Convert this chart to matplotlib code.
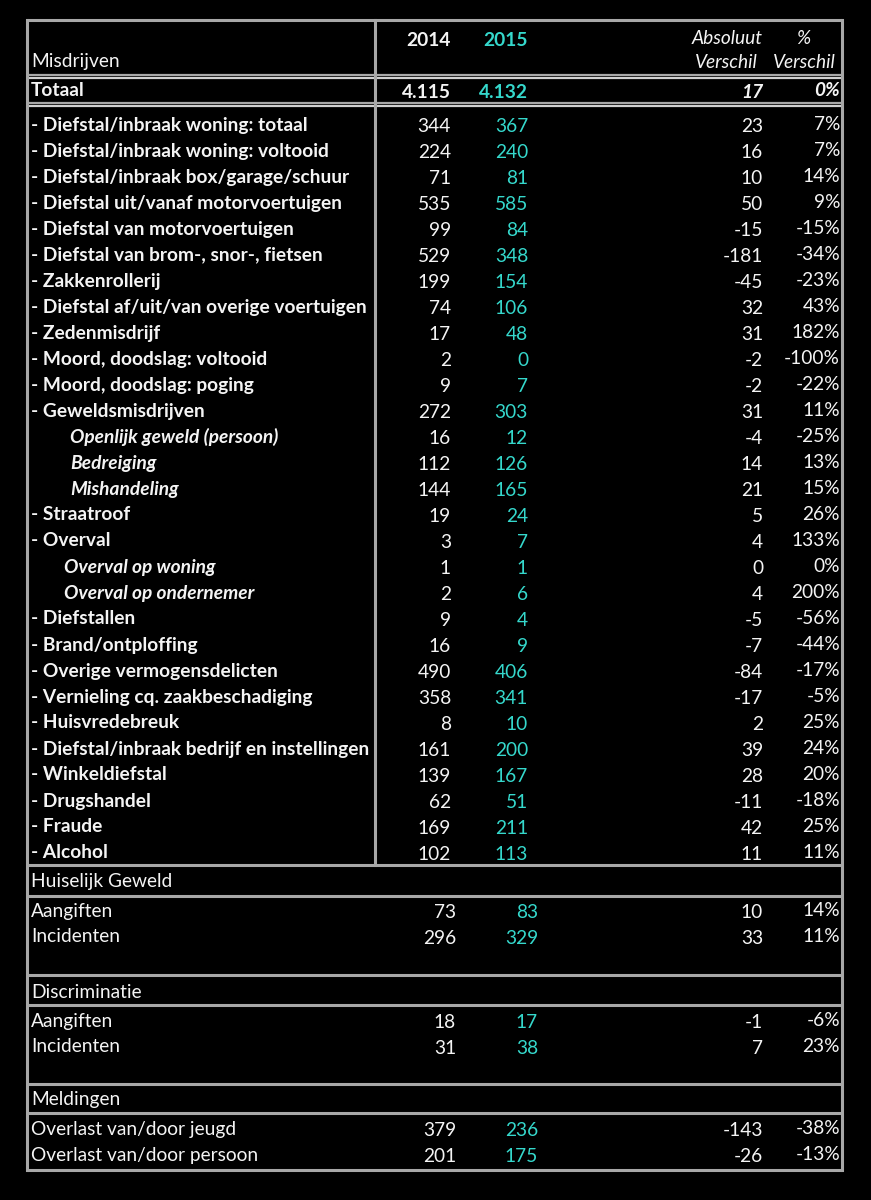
import matplotlib.pyplot as plt

# ---------------------------------------------------------------------------
# data read from the reference table
# ---------------------------------------------------------------------------
TOTAL = ("Totaal", "4.115", "4.132", "17", "0%")

labels = [
    "- Diefstal/inbraak woning: totaal",
    "- Diefstal/inbraak woning: voltooid",
    "- Diefstal/inbraak box/garage/schuur",
    "- Diefstal uit/vanaf motorvoertuigen",
    "- Diefstal van motorvoertuigen",
    "- Diefstal van brom-, snor-, fietsen",
    "- Zakkenrollerij",
    "- Diefstal af/uit/van overige voertuigen",
    "- Zedenmisdrijf",
    "- Moord, doodslag: voltooid",
    "- Moord, doodslag: poging",
    "- Geweldsmisdrijven",
    "Openlijk geweld (persoon)",
    "Bedreiging",
    "Mishandeling",
    "- Straatroof",
    "- Overval",
    "Overval op woning",
    "Overval op ondernemer",
    "- Diefstallen",
    "- Brand/ontploffing",
    "- Overige vermogensdelicten",
    "- Vernieling cq. zaakbeschadiging",
    "- Huisvredebreuk",
    "- Diefstal/inbraak bedrijf en instellingen",
    "- Winkeldiefstal",
    "- Drugshandel",
    "- Fraude",
    "- Alcohol",
]
v2014 = [344, 224, 71, 535, 99, 529, 199, 74, 17, 2, 9, 272, 16, 112, 144,
         19, 3, 1, 2, 9, 16, 490, 358, 8, 161, 139, 62, 169, 102]
v2015 = [367, 240, 81, 585, 84, 348, 154, 106, 48, 0, 7, 303, 12, 126, 165,
         24, 7, 1, 6, 4, 9, 406, 341, 10, 200, 167, 51, 211, 113]
abs_diff = [23, 16, 10, 50, -15, -181, -45, 32, 31, -2, -2, 31, -4, 14, 21,
            5, 4, 0, 4, -5, -7, -84, -17, 2, 39, 28, -11, 42, 11]
pct_diff = [7, 7, 14, 9, -15, -34, -23, 43, 182, -100, -22, 11, -25, 13, 15,
            26, 133, 0, 200, -56, -44, -17, -5, 25, 24, 20, -18, 25, 11]
# indent of the italic sub rows (0 = normal bold row)
indent = [0] * 12 + [39, 39, 39] + [0, 0] + [33, 33] + [0] * 10

section_titles = ["Huiselijk Geweld", "Discriminatie", "Meldingen"]
section_rows = [
    ["Aangiften", "Incidenten"],
    ["Aangiften", "Incidenten"],
    ["Overlast van/door jeugd", "Overlast van/door persoon"],
]
section_2014 = [[73, 296], [18, 31], [379, 201]]
section_2015 = [[83, 329], [17, 38], [236, 175]]
section_abs = [[10, 33], [-1, 7], [-143, -26]]
section_pct = [[14, 11], [-6, 23], [-38, -13]]

# ---------------------------------------------------------------------------
FONT = "Lato"
FS = 13.8
CYAN = "#35d8cc"
WHITE = "#f4f4f4"
GRID = "#a8a8a8"

X_LABEL = 31
X_2014 = 451
X_2015 = 528
X_ABS = 763
X_PCT = 840
L, R, TOP, BOT = 27, 842, 20, 1170

fig = plt.figure(figsize=(8.71, 12.0), dpi=100)
fig.patch.set_facecolor("black")
ax = fig.add_axes([0, 0, 1, 1])
ax.set_xlim(0, 871)
ax.set_ylim(1200, 0)
ax.axis("off")
ax.set_facecolor("black")


def txt(x, y, s, ha="left", color=WHITE, weight="normal", style="normal", size=FS):
    ax.text(x, y, s, ha=ha, va="center", color=color, fontsize=size,
            fontfamily=FONT, fontweight=weight, fontstyle=style)


def hline(y, x0=L, x1=R, double=False):
    if double:
        ax.plot([x0, x1], [y - 1.5, y - 1.5], color=GRID, lw=1.6, solid_capstyle="butt")
        ax.plot([x0, x1], [y + 1.5, y + 1.5], color="#d0d0d0", lw=1.6, solid_capstyle="butt")
    else:
        ax.plot([x0, x1], [y, y], color=GRID, lw=2.2, solid_capstyle="butt")


# header
txt(X_LABEL, 62, "Misdrijven")
txt(X_2014, 40, "2014", ha="right", weight="bold")
txt(X_2015, 40, "2015", ha="right", weight="bold", color=CYAN)
txt(X_ABS, 38, "Absoluut", ha="right", style="italic")
txt(X_ABS - 5, 62, "Verschil", ha="right", style="italic")
txt(X_PCT - 30, 38, "%", ha="right", style="italic")
txt(X_PCT - 4, 62, "Verschil", ha="right", style="italic")

# totaal
txt(X_LABEL, 90, TOTAL[0], weight="bold")
txt(X_2014, 92, TOTAL[1], ha="right", weight="bold")
txt(X_2015, 92, TOTAL[2], ha="right", weight="bold", color=CYAN)
txt(X_ABS, 92, TOTAL[3], ha="right", weight="bold", style="italic")
txt(X_PCT, 90, TOTAL[4], ha="right", weight="bold", style="italic")

# main rows
for i, lab in enumerate(labels):
    y = 125 + i * 26
    if indent[i]:
        txt(X_LABEL + indent[i], y, lab, weight="bold", style="italic")
    else:
        txt(X_LABEL, y, lab, weight="bold")
    txt(X_2014, y + 2, str(v2014[i]), ha="right")
    txt(X_2015, y + 2, str(v2015[i]), ha="right", color=CYAN)
    txt(X_ABS, y + 2, str(abs_diff[i]), ha="right")
    txt(X_PCT, y, f"{pct_diff[i]}%", ha="right")

# lower sections
section_y = [882, 992, 1100]
for s, title in enumerate(section_titles):
    y0 = section_y[s]
    txt(X_LABEL, y0, title)
    for j, lab in enumerate(section_rows[s]):
        y = y0 + 29 + j * 26
        txt(X_LABEL, y, lab)
        txt(X_2014 + 5, y + 2, str(section_2014[s][j]), ha="right")
        txt(X_2015 + 10, y + 2, str(section_2015[s][j]), ha="right", color=CYAN)
        txt(X_ABS, y + 2, str(section_abs[s][j]), ha="right")
        txt(X_PCT, y, f"{section_pct[s][j]}%", ha="right")

# grid lines
hline(TOP)
hline(76, double=True)
hline(104, double=True)
for y in [865, 896, 975, 1005, 1084, 1113]:
    hline(y)
hline(BOT)
ax.plot([L, L], [TOP, BOT], color=GRID, lw=2.2)
ax.plot([R, R], [TOP, BOT], color=GRID, lw=2.2)
ax.plot([375, 375], [TOP, 865], color=GRID, lw=2.2)

fig.savefig("out.png", dpi=100, facecolor="black")
